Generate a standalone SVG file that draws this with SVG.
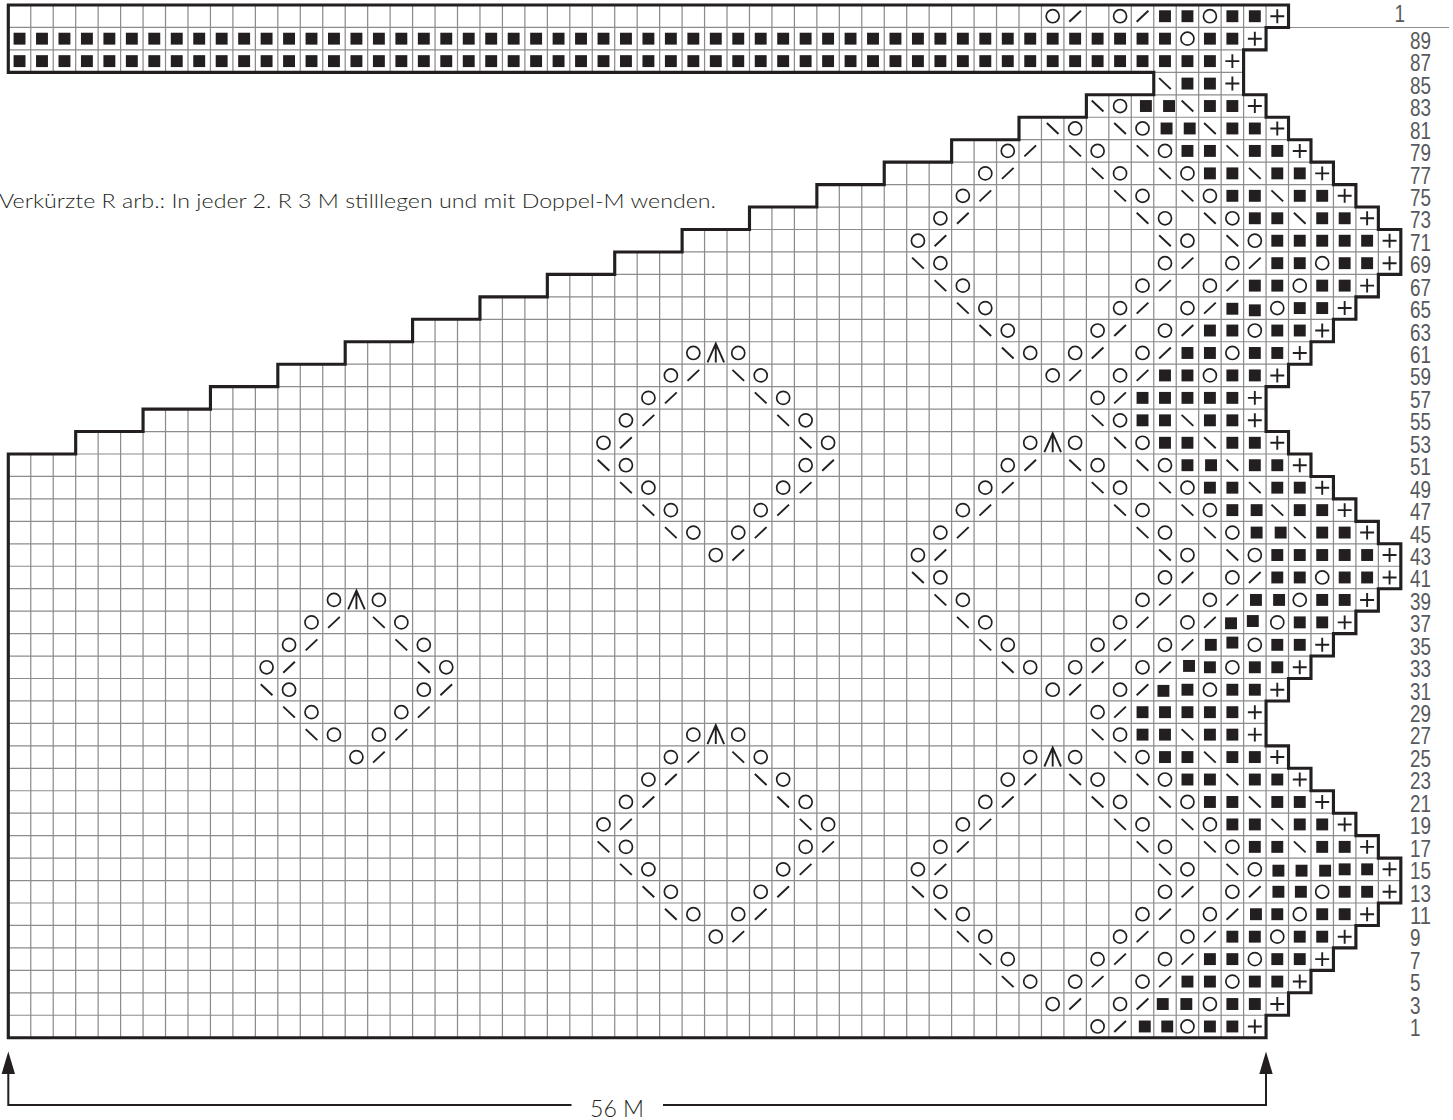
<svg xmlns="http://www.w3.org/2000/svg" width="1453" height="1120" viewBox="0 0 1453 1120">
<style>
.n{font-family:"Liberation Sans",Arial,sans-serif;font-size:23px;fill:#58595b}
.t{font-family:Lato,"Liberation Sans",sans-serif;font-weight:300;fill:#231f20}
.o{fill:none;stroke:#231f20;stroke-width:.075}
.l{fill:none;stroke:#231f20;stroke-width:.085}
.d{fill:none;stroke:#231f20;stroke-width:2}
</style>
<defs>
<clipPath id="cp"><path id="shape" d="M0 0H57V1H56V2H55V4H56V5H57V6H58V7H59V8H60V9H61V10H62V12H61V13H60V14H59V15H58V16H57V17H56V19H57V20H58V21H59V22H60V23H61V24H62V26H61V27H60V28H59V29H58V30H57V31H56V33H57V34H58V35H59V36H60V37H61V38H62V40H61V41H60V42H59V43H58V44H57V45H56V46H0V20H3V19H6V18H9V17H12V16H15V15H18V14H21V13H24V12H27V11H30V10H33V9H36V8H39V7H42V6H45V5H48V4H51V3H0Z"/></clipPath>
<rect id="b" x=".235" y=".235" width=".53" height=".53" fill="#231f20"/>
<circle id="o" class="o" cx=".5" cy=".5" r=".29"/>
<path id="f" class="l" d="M.24 .745L.76 .255"/>
<path id="k" class="l" d="M.24 .255L.76 .745"/>
<path id="p" class="l" d="M.19 .5H.81M.5 .19V.81"/>
<path id="a" class="l" d="M.13 .92L.5 .08L.87 .92M.5 .08V.92"/>
<g id="b10"><use href="#b"/><use href="#b" x="1"/><use href="#b" x="2"/><use href="#b" x="3"/><use href="#b" x="4"/><use href="#b" x="5"/><use href="#b" x="6"/><use href="#b" x="7"/><use href="#b" x="8"/><use href="#b" x="9"/></g>
<g id="d8">
<use href="#o" x="-1"/><use href="#a"/><use href="#o" x="1"/>
<g transform="translate(0,1)"><use href="#o" x="-2"/><use href="#f" x="-1"/><use href="#k" x="1"/><use href="#o" x="2"/></g>
<g transform="translate(0,2)"><use href="#o" x="-3"/><use href="#f" x="-2"/><use href="#k" x="2"/><use href="#o" x="3"/></g>
<g transform="translate(0,3)"><use href="#o" x="-4"/><use href="#f" x="-3"/><use href="#k" x="3"/><use href="#o" x="4"/></g>
<g transform="translate(0,4)"><use href="#k" x="-4"/><use href="#o" x="-3"/><use href="#o" x="3"/><use href="#f" x="4"/></g>
<g transform="translate(0,5)"><use href="#k" x="-3"/><use href="#o" x="-2"/><use href="#o" x="2"/><use href="#f" x="3"/></g>
<g transform="translate(0,6)"><use href="#k" x="-2"/><use href="#o" x="-1"/><use href="#o" x="1"/><use href="#f" x="2"/></g>
<g transform="translate(0,7)"><use href="#o"/><use href="#f" x="1"/></g>
</g>
<g id="d10">
<use href="#o" x="-1"/><use href="#a"/><use href="#o" x="1"/>
<g transform="translate(0,1)"><use href="#o" x="-2"/><use href="#f" x="-1"/><use href="#k" x="1"/><use href="#o" x="2"/></g>
<g transform="translate(0,2)"><use href="#o" x="-3"/><use href="#f" x="-2"/><use href="#k" x="2"/><use href="#o" x="3"/></g>
<g transform="translate(0,3)"><use href="#o" x="-4"/><use href="#f" x="-3"/><use href="#k" x="3"/><use href="#o" x="4"/></g>
<g transform="translate(0,4)"><use href="#o" x="-5"/><use href="#f" x="-4"/><use href="#k" x="4"/><use href="#o" x="5"/></g>
<g transform="translate(0,5)"><use href="#k" x="-5"/><use href="#o" x="-4"/><use href="#o" x="4"/><use href="#f" x="5"/></g>
<g transform="translate(0,6)"><use href="#k" x="-4"/><use href="#o" x="-3"/><use href="#o" x="3"/><use href="#f" x="4"/></g>
<g transform="translate(0,7)"><use href="#k" x="-3"/><use href="#o" x="-2"/><use href="#o" x="2"/><use href="#f" x="3"/></g>
<g transform="translate(0,8)"><use href="#k" x="-2"/><use href="#o" x="-1"/><use href="#o" x="1"/><use href="#f" x="2"/></g>
<g transform="translate(0,9)"><use href="#o"/><use href="#f" x="1"/></g>
</g>
</defs>
<rect width="1453" height="1120" fill="#fff"/>
<path d="M1288 27.5H1449" stroke="#8c8c8c" stroke-width="1" fill="none"/>
<g id="chart" transform="translate(8.3,5) scale(22.46,22.45)">
<path id="grid" clip-path="url(#cp)" fill="none" stroke="#8c8c8c" stroke-width=".055" d="M1 0V46M2 0V46M3 0V46M4 0V46M5 0V46M6 0V46M7 0V46M8 0V46M9 0V46M10 0V46M11 0V46M12 0V46M13 0V46M14 0V46M15 0V46M16 0V46M17 0V46M18 0V46M19 0V46M20 0V46M21 0V46M22 0V46M23 0V46M24 0V46M25 0V46M26 0V46M27 0V46M28 0V46M29 0V46M30 0V46M31 0V46M32 0V46M33 0V46M34 0V46M35 0V46M36 0V46M37 0V46M38 0V46M39 0V46M40 0V46M41 0V46M42 0V46M43 0V46M44 0V46M45 0V46M46 0V46M47 0V46M48 0V46M49 0V46M50 0V46M51 0V46M52 0V46M53 0V46M54 0V46M55 0V46M56 0V46M57 0V46M58 0V46M59 0V46M60 0V46M61 0V46M0 1H62M0 2H62M0 3H62M0 4H62M0 5H62M0 6H62M0 7H62M0 8H62M0 9H62M0 10H62M0 11H62M0 12H62M0 13H62M0 14H62M0 15H62M0 16H62M0 17H62M0 18H62M0 19H62M0 20H62M0 21H62M0 22H62M0 23H62M0 24H62M0 25H62M0 26H62M0 27H62M0 28H62M0 29H62M0 30H62M0 31H62M0 32H62M0 33H62M0 34H62M0 35H62M0 36H62M0 37H62M0 38H62M0 39H62M0 40H62M0 41H62M0 42H62M0 43H62M0 44H62M0 45H62"/>
<g id="rows">
<g><use href="#o" x="46"/><use href="#f" x="47"/><use href="#o" x="49"/><use href="#f" x="50"/><use href="#b" x="51"/><use href="#b" x="52"/><use href="#o" x="53"/><use href="#b" x="54"/><use href="#b" x="55"/><use href="#p" x="56"/></g>
<g transform="translate(0,1)"><use href="#b10"/><use href="#b10" x="10"/><use href="#b10" x="20"/><use href="#b10" x="30"/><use href="#b10" x="40"/><use href="#b" x="50"/><use href="#b" x="51"/><use href="#o" x="52"/><use href="#b" x="53"/><use href="#b" x="54"/><use href="#p" x="55"/></g>
<g transform="translate(0,2)"><use href="#b10"/><use href="#b10" x="10"/><use href="#b10" x="20"/><use href="#b10" x="30"/><use href="#b10" x="40"/><use href="#b" x="50"/><use href="#b" x="51"/><use href="#b" x="52"/><use href="#b" x="53"/><use href="#p" x="54"/></g>
<g transform="translate(0,3)"><use href="#k" x="51"/><use href="#b" x="52"/><use href="#b" x="53"/><use href="#p" x="54"/></g>
<g transform="translate(0,4)"><use href="#k" x="48"/><use href="#o" x="49"/><use href="#b" x="50.15"/><use href="#b" x="51.18"/><use href="#k" x="52"/><use href="#b" x="53"/><use href="#b" x="54"/><use href="#p" x="55"/></g>
<g transform="translate(0,5)"><use href="#k" x="46"/><use href="#o" x="47"/><use href="#k" x="49"/><use href="#o" x="50"/><use href="#b" x="51.07"/><use href="#b" x="52.1"/><use href="#k" x="53"/><use href="#b" x="54"/><use href="#b" x="55"/><use href="#p" x="56"/></g>
<g transform="translate(0,6)"><use href="#o" x="44"/><use href="#f" x="45"/><use href="#k" x="47"/><use href="#o" x="48"/><use href="#k" x="50"/><use href="#o" x="51"/><use href="#b" x="52"/><use href="#b" x="53"/><use href="#k" x="54"/><use href="#b" x="55"/><use href="#b" x="56"/><use href="#p" x="57"/></g>
<g transform="translate(0,7)"><use href="#o" x="43"/><use href="#f" x="44"/><use href="#k" x="48"/><use href="#o" x="49"/><use href="#k" x="51"/><use href="#o" x="52"/><use href="#b" x="53"/><use href="#b" x="54"/><use href="#k" x="55"/><use href="#b" x="56"/><use href="#b" x="57"/><use href="#p" x="58"/></g>
<g transform="translate(0,8)"><use href="#o" x="42"/><use href="#f" x="43"/><use href="#k" x="49"/><use href="#o" x="50"/><use href="#k" x="52"/><use href="#o" x="53"/><use href="#b" x="54"/><use href="#b" x="55"/><use href="#k" x="56"/><use href="#b" x="57"/><use href="#b" x="58"/><use href="#p" x="59"/></g>
<g transform="translate(0,9)"><use href="#o" x="41"/><use href="#f" x="42"/><use href="#k" x="50"/><use href="#o" x="51"/><use href="#k" x="53"/><use href="#o" x="54"/><use href="#b" x="55"/><use href="#b" x="56"/><use href="#k" x="57"/><use href="#b" x="58"/><use href="#b" x="59"/><use href="#p" x="60"/></g>
<g transform="translate(0,10)"><use href="#o" x="40"/><use href="#f" x="41"/><use href="#k" x="51"/><use href="#o" x="52"/><use href="#k" x="54"/><use href="#o" x="55"/><use href="#b" x="56"/><use href="#b" x="57"/><use href="#b" x="58"/><use href="#b" x="59"/><use href="#b" x="60"/><use href="#p" x="61"/></g>
<g transform="translate(0,11)"><use href="#k" x="40"/><use href="#o" x="41"/><use href="#o" x="51"/><use href="#f" x="52"/><use href="#o" x="54"/><use href="#f" x="55"/><use href="#b" x="56"/><use href="#b" x="57"/><use href="#o" x="58"/><use href="#b" x="59"/><use href="#b" x="60"/><use href="#p" x="61"/></g>
<g transform="translate(0,12)"><use href="#k" x="41"/><use href="#o" x="42"/><use href="#o" x="50"/><use href="#f" x="51"/><use href="#o" x="53"/><use href="#f" x="54"/><use href="#b" x="55"/><use href="#b" x="56"/><use href="#o" x="57"/><use href="#b" x="58"/><use href="#b" x="59"/><use href="#p" x="60"/></g>
<g transform="translate(0,13)"><use href="#k" x="42"/><use href="#o" x="43"/><use href="#o" x="49"/><use href="#f" x="50"/><use href="#o" x="52"/><use href="#f" x="53"/><use href="#b" x="54" y=".03"/><use href="#b" x="55" y=".1"/><use href="#o" x="56"/><use href="#b" x="57"/><use href="#b" x="58"/><use href="#p" x="59"/></g>
<g transform="translate(0,14)"><use href="#k" x="43"/><use href="#o" x="44"/><use href="#o" x="48"/><use href="#f" x="49"/><use href="#o" x="51"/><use href="#f" x="52"/><use href="#b" x="53"/><use href="#b" x="54"/><use href="#o" x="55"/><use href="#b" x="56"/><use href="#b" x="57"/><use href="#p" x="58"/></g>
<g transform="translate(0,15)"><use href="#k" x="44"/><use href="#o" x="45"/><use href="#o" x="47"/><use href="#f" x="48"/><use href="#o" x="50"/><use href="#f" x="51"/><use href="#b" x="52"/><use href="#b" x="53"/><use href="#o" x="54"/><use href="#b" x="55"/><use href="#b" x="56"/><use href="#p" x="57"/></g>
<g transform="translate(0,16)"><use href="#o" x="46"/><use href="#f" x="47"/><use href="#o" x="49"/><use href="#f" x="50"/><use href="#b" x="51"/><use href="#b" x="52"/><use href="#o" x="53"/><use href="#b" x="54"/><use href="#b" x="55"/><use href="#p" x="56"/></g>
<g transform="translate(0,17)"><use href="#o" x="48"/><use href="#f" x="49"/><use href="#b" x="50"/><use href="#b" x="51"/><use href="#b" x="52"/><use href="#b" x="53"/><use href="#b" x="54"/><use href="#p" x="55"/></g>
<g transform="translate(0,18)"><use href="#k" x="48"/><use href="#o" x="49"/><use href="#b" x="50"/><use href="#b" x="51"/><use href="#k" x="52"/><use href="#b" x="53"/><use href="#b" x="54"/><use href="#p" x="55"/></g>
<g transform="translate(0,19)"><use href="#k" x="49"/><use href="#o" x="50"/><use href="#b" x="51"/><use href="#b" x="52"/><use href="#k" x="53"/><use href="#b" x="54"/><use href="#b" x="55"/><use href="#p" x="56"/></g>
<g transform="translate(0,20)"><use href="#k" x="50"/><use href="#o" x="51"/><use href="#b" x="52"/><use href="#b" x="53.05"/><use href="#k" x="54"/><use href="#b" x="55"/><use href="#b" x="56"/><use href="#p" x="57"/></g>
<g transform="translate(0,21)"><use href="#k" x="51"/><use href="#o" x="52"/><use href="#b" x="53"/><use href="#b" x="54"/><use href="#k" x="55"/><use href="#b" x="56"/><use href="#b" x="57"/><use href="#p" x="58"/></g>
<g transform="translate(0,22)"><use href="#k" x="52"/><use href="#o" x="53"/><use href="#b" x="54"/><use href="#b" x="55.08"/><use href="#k" x="56"/><use href="#b" x="57"/><use href="#b" x="58"/><use href="#p" x="59"/></g>
<g transform="translate(0,23)"><use href="#k" x="53"/><use href="#o" x="54"/><use href="#b" x="55.08"/><use href="#b" x="56.15"/><use href="#k" x="57"/><use href="#b" x="58"/><use href="#b" x="59"/><use href="#p" x="60"/></g>
<g transform="translate(0,24)"><use href="#k" x="54"/><use href="#o" x="55"/><use href="#b" x="56"/><use href="#b" x="57"/><use href="#b" x="58"/><use href="#b" x="59"/><use href="#b" x="60"/><use href="#p" x="61"/><use href="#k" x="51"/><use href="#o" x="52"/></g>
<g transform="translate(0,25)"><use href="#o" x="51"/><use href="#f" x="52"/><use href="#o" x="54"/><use href="#f" x="55"/><use href="#b" x="56"/><use href="#b" x="57"/><use href="#o" x="58"/><use href="#b" x="59"/><use href="#b" x="60"/><use href="#p" x="61"/></g>
<g transform="translate(0,26)"><use href="#o" x="50"/><use href="#f" x="51"/><use href="#o" x="53"/><use href="#f" x="54"/><use href="#b" x="55.05"/><use href="#b" x="56.08"/><use href="#o" x="57"/><use href="#b" x="58"/><use href="#b" x="59"/><use href="#p" x="60"/></g>
<g transform="translate(0,27)"><use href="#o" x="49"/><use href="#f" x="50"/><use href="#o" x="52"/><use href="#f" x="53"/><use href="#b" x="53.94" y=".04"/><use href="#b" x="54.91" y="-.06"/><use href="#o" x="56"/><use href="#b" x="57"/><use href="#b" x="58"/><use href="#p" x="59"/></g>
<g transform="translate(0,28)"><use href="#o" x="48"/><use href="#f" x="49"/><use href="#o" x="51"/><use href="#f" x="52"/><use href="#b" x="53.04"/><use href="#b" x="54" y="-.1"/><use href="#o" x="55"/><use href="#b" x="56"/><use href="#b" x="57"/><use href="#p" x="58"/></g>
<g transform="translate(0,29)"><use href="#o" x="47"/><use href="#f" x="48"/><use href="#o" x="50"/><use href="#f" x="51"/><use href="#b" x="52.07" y="-.06"/><use href="#b" x="53"/><use href="#o" x="54"/><use href="#b" x="55"/><use href="#b" x="56"/><use href="#p" x="57"/></g>
<g transform="translate(0,30)"><use href="#o" x="46"/><use href="#f" x="47"/><use href="#o" x="49"/><use href="#f" x="50"/><use href="#b" x="50.93" y=".05"/><use href="#b" x="52"/><use href="#o" x="53"/><use href="#b" x="54"/><use href="#b" x="55"/><use href="#p" x="56"/></g>
<g transform="translate(0,31)"><use href="#o" x="48"/><use href="#f" x="49"/><use href="#b" x="50"/><use href="#b" x="51"/><use href="#b" x="52"/><use href="#b" x="53"/><use href="#b" x="54"/><use href="#p" x="55"/></g>
<g transform="translate(0,32)"><use href="#k" x="48"/><use href="#o" x="49"/><use href="#b" x="50"/><use href="#b" x="51"/><use href="#k" x="52"/><use href="#b" x="53"/><use href="#b" x="54"/><use href="#p" x="55"/></g>
<g transform="translate(0,33)"><use href="#k" x="49"/><use href="#o" x="50"/><use href="#b" x="51"/><use href="#b" x="52"/><use href="#k" x="53"/><use href="#b" x="54"/><use href="#b" x="55"/><use href="#p" x="56"/></g>
<g transform="translate(0,34)"><use href="#k" x="50"/><use href="#o" x="51"/><use href="#b" x="52"/><use href="#b" x="53"/><use href="#k" x="54"/><use href="#b" x="55"/><use href="#b" x="56"/><use href="#p" x="57"/></g>
<g transform="translate(0,35)"><use href="#k" x="51"/><use href="#o" x="52"/><use href="#b" x="53"/><use href="#b" x="54"/><use href="#k" x="55"/><use href="#b" x="56"/><use href="#b" x="57"/><use href="#p" x="58"/></g>
<g transform="translate(0,36)"><use href="#k" x="52"/><use href="#o" x="53"/><use href="#b" x="54"/><use href="#b" x="55"/><use href="#k" x="56"/><use href="#b" x="57"/><use href="#b" x="58"/><use href="#p" x="59"/></g>
<g transform="translate(0,37)"><use href="#k" x="53"/><use href="#o" x="54"/><use href="#b" x="55"/><use href="#b" x="56"/><use href="#k" x="57"/><use href="#b" x="58"/><use href="#b" x="59"/><use href="#p" x="60"/></g>
<g transform="translate(0,38)"><use href="#k" x="51"/><use href="#o" x="52"/><use href="#k" x="54"/><use href="#o" x="55"/><use href="#b" x="56.05" y=".06"/><use href="#b" x="57.08" y=".06"/><use href="#b" x="58.13" y=".06"/><use href="#b" x="59"/><use href="#b" x="60"/><use href="#p" x="61"/></g>
<g transform="translate(0,39)"><use href="#o" x="51"/><use href="#f" x="52"/><use href="#o" x="54"/><use href="#f" x="55"/><use href="#b" x="56.05"/><use href="#b" x="57.05"/><use href="#o" x="58"/><use href="#b" x="59"/><use href="#b" x="60"/><use href="#p" x="61"/></g>
<g transform="translate(0,40)"><use href="#o" x="50"/><use href="#f" x="51"/><use href="#o" x="53"/><use href="#f" x="54"/><use href="#b" x="55.05"/><use href="#b" x="56"/><use href="#o" x="57"/><use href="#b" x="58"/><use href="#b" x="59"/><use href="#p" x="60"/></g>
<g transform="translate(0,41)"><use href="#o" x="49"/><use href="#f" x="50"/><use href="#o" x="52"/><use href="#f" x="53"/><use href="#b" x="54"/><use href="#b" x="55"/><use href="#o" x="56"/><use href="#b" x="57"/><use href="#b" x="58"/><use href="#p" x="59"/></g>
<g transform="translate(0,42)"><use href="#o" x="48"/><use href="#f" x="49"/><use href="#o" x="51"/><use href="#f" x="52"/><use href="#b" x="53"/><use href="#b" x="54"/><use href="#o" x="55"/><use href="#b" x="56"/><use href="#b" x="57"/><use href="#p" x="58"/></g>
<g transform="translate(0,43)"><use href="#o" x="47"/><use href="#f" x="48"/><use href="#o" x="50"/><use href="#f" x="51"/><use href="#b" x="52"/><use href="#b" x="53"/><use href="#o" x="54"/><use href="#b" x="55"/><use href="#b" x="56"/><use href="#p" x="57"/></g>
<g transform="translate(0,44)"><use href="#o" x="46"/><use href="#f" x="47"/><use href="#o" x="49"/><use href="#f" x="50"/><use href="#b" x="50.9"/><use href="#b" x="51.95"/><use href="#o" x="53"/><use href="#b" x="54"/><use href="#b" x="55"/><use href="#p" x="56"/></g>
<g transform="translate(0,45)"><use href="#o" x="48"/><use href="#f" x="49"/><use href="#b" x="50.1"/><use href="#b" x="51.1"/><use href="#o" x="52"/><use href="#b" x="53"/><use href="#b" x="54"/><use href="#p" x="55"/></g>
</g>
<g id="left-arms">
<use href="#k" x="44" y="43"/><use href="#o" x="45" y="43"/>
<use href="#k" x="43" y="42"/><use href="#o" x="44" y="42"/>
<use href="#k" x="42" y="41"/><use href="#o" x="43" y="41"/>
<use href="#k" x="41" y="40"/><use href="#o" x="42" y="40"/>
<use href="#k" x="40" y="39"/><use href="#o" x="41" y="39"/>
<use href="#o" x="40" y="38"/><use href="#f" x="41" y="38"/>
<use href="#o" x="41" y="37"/><use href="#f" x="42" y="37"/>
<use href="#o" x="42" y="36"/><use href="#f" x="43" y="36"/>
<use href="#o" x="43" y="35"/><use href="#f" x="44" y="35"/>
<use href="#o" x="44" y="34"/><use href="#f" x="45" y="34"/>
<use href="#o" x="45" y="33"/><use href="#a" x="46" y="33"/><use href="#o" x="47" y="33"/>
<use href="#o" x="48" y="34"/><use href="#k" x="47" y="34"/>
<use href="#o" x="49" y="35"/><use href="#k" x="48" y="35"/>
<use href="#o" x="50" y="36"/><use href="#k" x="49" y="36"/>
<use href="#o" x="51" y="37"/><use href="#k" x="50" y="37"/>
<use href="#k" x="44" y="29"/><use href="#o" x="45" y="29"/>
<use href="#k" x="43" y="28"/><use href="#o" x="44" y="28"/>
<use href="#k" x="42" y="27"/><use href="#o" x="43" y="27"/>
<use href="#k" x="41" y="26"/><use href="#o" x="42" y="26"/>
<use href="#k" x="40" y="25"/><use href="#o" x="41" y="25"/>
<use href="#o" x="40" y="24"/><use href="#f" x="41" y="24"/>
<use href="#o" x="41" y="23"/><use href="#f" x="42" y="23"/>
<use href="#o" x="42" y="22"/><use href="#f" x="43" y="22"/>
<use href="#o" x="43" y="21"/><use href="#f" x="44" y="21"/>
<use href="#o" x="44" y="20"/><use href="#f" x="45" y="20"/>
<use href="#o" x="45" y="19"/><use href="#a" x="46" y="19"/><use href="#o" x="47" y="19"/>
<use href="#o" x="48" y="20"/><use href="#k" x="47" y="20"/>
<use href="#o" x="49" y="21"/><use href="#k" x="48" y="21"/>
<use href="#o" x="50" y="22"/><use href="#k" x="49" y="22"/>
<use href="#o" x="51" y="23"/><use href="#k" x="50" y="23"/>
</g>
<g id="diamonds">
<use href="#d8" x="15" y="26"/>
<use href="#d10" x="31" y="15"/>
<use href="#d10" x="31" y="32"/>
</g>
<path id="outline" d="M0 0H57V1H56V2H55V4H56V5H57V6H58V7H59V8H60V9H61V10H62V12H61V13H60V14H59V15H58V16H57V17H56V19H57V20H58V21H59V22H60V23H61V24H62V26H61V27H60V28H59V29H58V30H57V31H56V33H57V34H58V35H59V36H60V37H61V38H62V40H61V41H60V42H59V43H58V44H57V45H56V46H0V20H3V19H6V18H9V17H12V16H15V15H18V14H21V13H24V12H27V11H30V10H33V9H36V8H39V7H42V6H45V5H48V4H51V3H0Z" fill="none" stroke="#231f20" stroke-width=".14" stroke-linejoin="miter"/>
</g>
<g id="dimension">
<path class="d" d="M8.3 1074V1105H571.5M663 1105H1266V1074"/>
<path d="M8.3 1051.5L15 1074H1.6Z" fill="#231f20"/>
<path d="M1266 1051.5L1272.7 1074H1259.3Z" fill="#231f20"/>
<text class="t" x="590" y="1116.7" font-size="23.5" textLength="54" lengthAdjust="spacingAndGlyphs">56 M</text>
</g>
<text class="t" x="-1" y="208.3" font-size="20.5" textLength="717" lengthAdjust="spacingAndGlyphs">Verkürzte R arb.: In jeder 2. R 3 M stilllegen und mit Doppel-M wenden.</text>
<g id="numbers" class="n" transform="translate(0,-.5)">
<text x="1394.5" y="22.7" textLength="10.5" lengthAdjust="spacingAndGlyphs">1</text>
<text x="1410" y="49.3" textLength="21" lengthAdjust="spacingAndGlyphs">89</text>
<text x="1410" y="71.7" textLength="21" lengthAdjust="spacingAndGlyphs">87</text>
<text x="1410" y="94.2" textLength="21" lengthAdjust="spacingAndGlyphs">85</text>
<text x="1410" y="116.6" textLength="21" lengthAdjust="spacingAndGlyphs">83</text>
<text x="1410" y="139.1" textLength="21" lengthAdjust="spacingAndGlyphs">81</text>
<text x="1410" y="161.5" textLength="21" lengthAdjust="spacingAndGlyphs">79</text>
<text x="1410" y="184" textLength="21" lengthAdjust="spacingAndGlyphs">77</text>
<text x="1410" y="206.4" textLength="21" lengthAdjust="spacingAndGlyphs">75</text>
<text x="1410" y="228.8" textLength="21" lengthAdjust="spacingAndGlyphs">73</text>
<text x="1410" y="251.3" textLength="21" lengthAdjust="spacingAndGlyphs">71</text>
<text x="1410" y="273.7" textLength="21" lengthAdjust="spacingAndGlyphs">69</text>
<text x="1410" y="296.1" textLength="21" lengthAdjust="spacingAndGlyphs">67</text>
<text x="1410" y="318.6" textLength="21" lengthAdjust="spacingAndGlyphs">65</text>
<text x="1410" y="341" textLength="21" lengthAdjust="spacingAndGlyphs">63</text>
<text x="1410" y="363.5" textLength="21" lengthAdjust="spacingAndGlyphs">61</text>
<text x="1410" y="385.9" textLength="21" lengthAdjust="spacingAndGlyphs">59</text>
<text x="1410" y="408.3" textLength="21" lengthAdjust="spacingAndGlyphs">57</text>
<text x="1410" y="430.8" textLength="21" lengthAdjust="spacingAndGlyphs">55</text>
<text x="1410" y="453.2" textLength="21" lengthAdjust="spacingAndGlyphs">53</text>
<text x="1410" y="475.7" textLength="21" lengthAdjust="spacingAndGlyphs">51</text>
<text x="1410" y="498.1" textLength="21" lengthAdjust="spacingAndGlyphs">49</text>
<text x="1410" y="520.5" textLength="21" lengthAdjust="spacingAndGlyphs">47</text>
<text x="1410" y="543" textLength="21" lengthAdjust="spacingAndGlyphs">45</text>
<text x="1410" y="565.4" textLength="21" lengthAdjust="spacingAndGlyphs">43</text>
<text x="1410" y="587.9" textLength="21" lengthAdjust="spacingAndGlyphs">41</text>
<text x="1410" y="610.3" textLength="21" lengthAdjust="spacingAndGlyphs">39</text>
<text x="1410" y="632.7" textLength="21" lengthAdjust="spacingAndGlyphs">37</text>
<text x="1410" y="655.2" textLength="21" lengthAdjust="spacingAndGlyphs">35</text>
<text x="1410" y="677.6" textLength="21" lengthAdjust="spacingAndGlyphs">33</text>
<text x="1410" y="700.1" textLength="21" lengthAdjust="spacingAndGlyphs">31</text>
<text x="1410" y="722.5" textLength="21" lengthAdjust="spacingAndGlyphs">29</text>
<text x="1410" y="744.9" textLength="21" lengthAdjust="spacingAndGlyphs">27</text>
<text x="1410" y="767.4" textLength="21" lengthAdjust="spacingAndGlyphs">25</text>
<text x="1410" y="789.8" textLength="21" lengthAdjust="spacingAndGlyphs">23</text>
<text x="1410" y="812.3" textLength="21" lengthAdjust="spacingAndGlyphs">21</text>
<text x="1410" y="834.7" textLength="21" lengthAdjust="spacingAndGlyphs">19</text>
<text x="1410" y="857.1" textLength="21" lengthAdjust="spacingAndGlyphs">17</text>
<text x="1410" y="879.6" textLength="21" lengthAdjust="spacingAndGlyphs">15</text>
<text x="1410" y="902" textLength="21" lengthAdjust="spacingAndGlyphs">13</text>
<text x="1410" y="924.5" textLength="21" lengthAdjust="spacingAndGlyphs">11</text>
<text x="1410" y="946.9" textLength="10.5" lengthAdjust="spacingAndGlyphs">9</text>
<text x="1410" y="969.3" textLength="10.5" lengthAdjust="spacingAndGlyphs">7</text>
<text x="1410" y="991.8" textLength="10.5" lengthAdjust="spacingAndGlyphs">5</text>
<text x="1410" y="1014.2" textLength="10.5" lengthAdjust="spacingAndGlyphs">3</text>
<text x="1410" y="1036.7" textLength="10.5" lengthAdjust="spacingAndGlyphs">1</text>
</g>
</svg>
